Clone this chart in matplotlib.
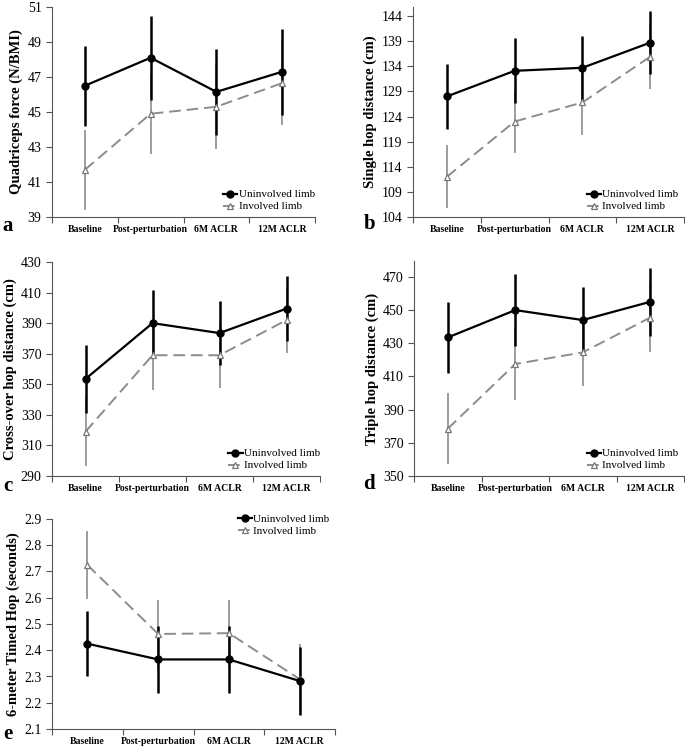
import numpy as np
import matplotlib
matplotlib.use("Agg")
import matplotlib.pyplot as plt

plt.rcParams['font.family'] = ['Liberation Serif', 'DejaVu Serif']

categories = ["Baseline", "Post-perturbation", "6M ACLR", "12M ACLR"]

# panel a - quadriceps force
quad_uninv = [46.5, 48.1, 46.15, 47.3]
quad_uninv_err = [2.3, 2.4, 2.45, 2.45]
quad_inv = [41.7, 44.9, 45.3, 46.65]
quad_inv_err = [2.3, 2.3, 2.4, 2.4]

# panel b - single hop
single_uninv = [128.0, 133.1, 133.7, 138.7]
single_uninv_err = [6.5, 6.5, 6.4, 6.3]
single_inv = [112.0, 123.0, 126.8, 135.9]
single_inv_err = [6.3, 6.3, 6.5, 6.4]

# panel c - cross-over hop
cross_uninv = [353.5, 390.0, 383.5, 399.5]
cross_uninv_err = [22.0, 22.0, 21.0, 21.5]
cross_inv = [319.0, 369.0, 369.0, 392.0]
cross_inv_err = [22.5, 22.5, 21.5, 21.5]

# panel d - triple hop
triple_uninv = [433.5, 450.0, 444.0, 455.0]
triple_uninv_err = [21.5, 21.5, 20.0, 20.5]
triple_inv = [378.5, 417.5, 424.5, 445.5]
triple_inv_err = [21.5, 21.5, 20.5, 20.5]

# panel e - 6 m timed hop
timed_uninv = [2.425, 2.365, 2.365, 2.283]
timed_uninv_err = [0.125, 0.128, 0.128, 0.13]
timed_inv = [2.725, 2.462, 2.465, 2.29]
timed_inv_err = [0.128, 0.13, 0.127, 0.135]

W, H = 685, 746
fig = plt.figure(figsize=(W / 100, H / 100), dpi=100)


def make_axes(left, right, top, bottom):
    return fig.add_axes([left / W, (H - bottom) / H, (right - left) / W, (bottom - top) / H])


def panel(ax, uninv, uninv_err, inv, inv_err, ylim, yticks, ylabel, legend_loc, anchor):
    x = np.arange(len(categories))
    ax.errorbar(x, inv, yerr=inv_err, fmt='none', ecolor='#8c8c8c', elinewidth=1.2, capsize=0, zorder=2)
    ax.errorbar(x, uninv, yerr=uninv_err, fmt='none', ecolor='black', elinewidth=1.8, capsize=0, zorder=3)
    ax.plot(x, inv, color='#8c8c8c', ls=(0, (6, 3)), lw=1.4, marker='^', ms=4.5,
            mfc='white', mec='#777777', mew=0.9, label='Involved limb', zorder=4)
    ax.plot(x, uninv, color='black', lw=1.6, marker='o', ms=5, label='Uninvolved limb', zorder=5)
    ax.set_xlim(-0.5, len(categories) - 0.5)
    ax.set_ylim(*ylim)
    ax.set_yticks(yticks)
    ax.set_xticks(np.arange(-0.5, len(categories), 1.0))
    ax.set_xticklabels([])
    ax.set_xticks(x, minor=True)
    ax.set_xticklabels(categories, minor=True, fontsize=7, fontweight='bold')
    ax.tick_params(axis='x', which='minor', length=0, pad=6)
    ax.tick_params(axis='x', which='major', length=4, direction='out', color='#555555')
    ax.tick_params(axis='y', labelsize=10, length=4, color='#555555')
    for s in ['top', 'right']:
        ax.spines[s].set_visible(False)
    for s in ['left', 'bottom']:
        ax.spines[s].set_color('#555555')
    ax.set_ylabel(ylabel, fontsize=10.5, fontweight='bold', labelpad=3)
    h, l = ax.get_legend_handles_labels()
    ax.legend(h[::-1], l[::-1], loc=legend_loc, bbox_to_anchor=anchor, frameon=False, fontsize=8,
              handlelength=1.3, handletextpad=0.1, labelspacing=0.2, borderaxespad=0.1)


ax_a = make_axes(52, 315, 7, 217)
panel(ax_a, quad_uninv, quad_uninv_err, quad_inv, quad_inv_err,
      (39, 51), np.arange(39, 52, 2), 'Quadriceps force (N/BMI)', 'lower right', (1.02, 0.0))

ax_b = make_axes(413, 684, 7, 217)
panel(ax_b, single_uninv, single_uninv_err, single_inv, single_inv_err,
      (104, 145.8), np.arange(104, 145, 5), 'Single hop distance (cm)', 'lower right', (1.0, 0.0))

ax_c = make_axes(52, 320, 262, 476)
panel(ax_c, cross_uninv, cross_uninv_err, cross_inv, cross_inv_err,
      (290, 430), np.arange(290, 431, 20), 'Cross-over hop distance (cm)', 'lower right', (1.02, 0.0))

ax_d = make_axes(414, 684, 261, 476)
panel(ax_d, triple_uninv, triple_uninv_err, triple_inv, triple_inv_err,
      (350, 479.6), np.arange(350, 471, 20), 'Triple hop distance (cm)', 'lower right', (1.0, 0.0))

ax_e = make_axes(52, 335, 519, 729)
panel(ax_e, timed_uninv, timed_uninv_err, timed_inv, timed_inv_err,
      (2.1, 2.9), np.round(np.arange(2.1, 2.91, 0.1), 1), '6-meter Timed Hop (seconds)',
      'upper right', (1.0, 1.05))

# panel letters
for letter, px, py in [('a', 8, 226), ('b', 370, 224), ('c', 8, 486), ('d', 369, 484), ('e', 8, 734)]:
    fig.text(px / W, (H - py) / H, letter, fontsize=15, fontweight='bold', ha='center', va='center')

fig.savefig('out.png', dpi=100)
